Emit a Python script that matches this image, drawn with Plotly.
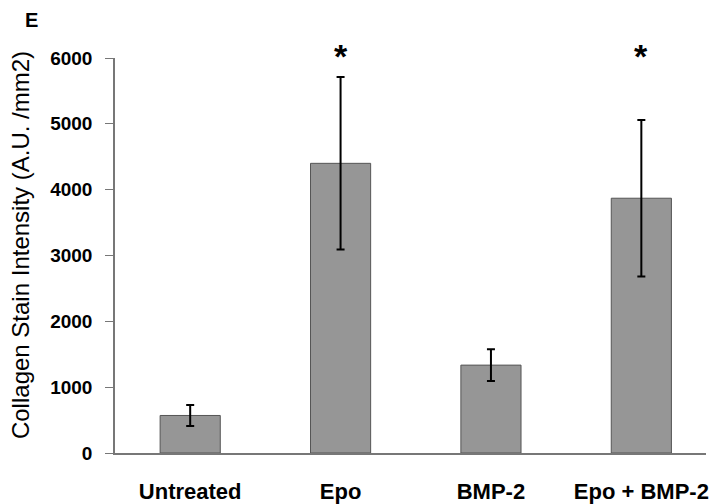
import plotly.graph_objects as go

categories = ["Untreated", "Epo", "BMP-2", "Epo + BMP-2"]
values = [570, 4400, 1335, 3870]
errors = [160, 1310, 240, 1190]
significant = ["", "*", "", "*"]
y_ticks = [0, 1000, 2000, 3000, 4000, 5000, 6000]

W, H = 709, 504
L, R, T, B = 115, 0, 58, 48

def px_x(p):
    return (p - L) / (W - L - R)

def px_y(p):
    return (H - B - p) / (H - T - B)

fig = go.Figure()
fig.add_trace(go.Bar(
    x=categories, y=values, width=0.40,
    marker=dict(color="#969696", line=dict(color="#555555", width=1)),
    error_y=dict(type="data", array=errors, visible=True, color="black",
                 thickness=2, width=4),
))

for c, s in zip(categories, significant):
    if s:
        fig.add_annotation(x=c, y=6000, xref="x", yref="y", text="<b>" + s + "</b>", showarrow=False,
                           yanchor="bottom", yshift=-19,
                           font=dict(family="Arial, Liberation Sans", size=34, color="black"))

fig.add_annotation(x=px_x(31), y=px_y(20), xref="paper", yref="paper", text="<b>E</b>",
                   showarrow=False, xanchor="center", yanchor="middle",
                   font=dict(family="Arial, Liberation Sans", size=20, color="black"))
fig.add_annotation(x=px_x(20), y=px_y(246), xref="paper", yref="paper",
                   text="Collagen Stain Intensity (A.U. /mm2)", textangle=-90,
                   showarrow=False, xanchor="center", yanchor="middle",
                   font=dict(family="Arial, Liberation Sans", size=24, color="black"))

fig.update_layout(
    width=W, height=H,
    margin=dict(l=L, r=R, t=T, b=B),
    paper_bgcolor="white", plot_bgcolor="white",
    showlegend=False,
    bargap=0.6,
    xaxis=dict(range=[-0.5, 3.43], showline=True, linecolor="#777777", linewidth=1.5,
               ticks="", showgrid=False, zeroline=False,
               tickfont=dict(family="Arial, Liberation Sans", size=22, color="black", weight="bold"),
               ticklabelstandoff=18),
    yaxis=dict(range=[0, 6000], tickvals=y_ticks, showline=True, linecolor="#777777",
               linewidth=1.5, ticks="outside", ticklen=8, tickcolor="#777777",
               showgrid=False, zeroline=False,
               tickfont=dict(family="Arial, Liberation Sans", size=19, color="black", weight="bold"),
               ticklabelstandoff=9),
)

fig.write_html("out.html")
